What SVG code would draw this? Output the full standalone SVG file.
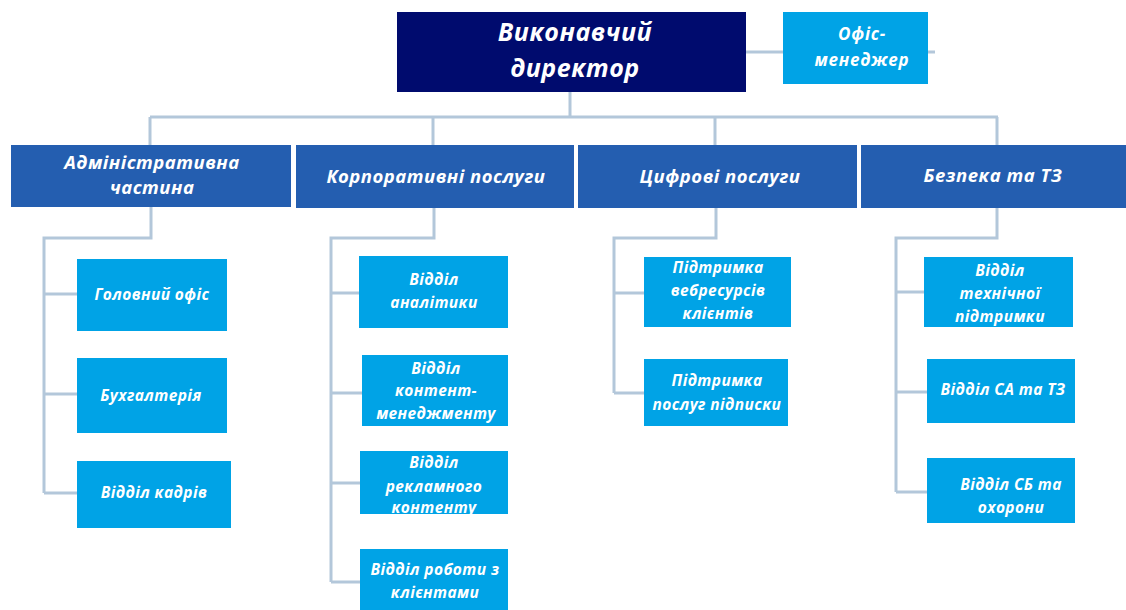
<svg xmlns="http://www.w3.org/2000/svg" width="1126" height="610" viewBox="0 0 1126 610">
<style>
.ln{fill:none;stroke:#b3c7da;stroke-width:3}
.top{fill:#000b6e}
.l2{fill:#245eb0}
.ch{fill:#00a3e6}
text{font-family:"Open Sans","Noto Sans","DejaVu Sans",sans-serif;font-weight:bold;font-style:italic;fill:#ffffff;text-anchor:middle}
.t1{font-size:25px;letter-spacing:0.5px}
.t2{font-size:18.5px;letter-spacing:0.5px}
.t3{font-size:15.5px;letter-spacing:0.4px}
.t4{font-size:17px;letter-spacing:0.8px}
</style>
<rect width="1126" height="610" fill="#ffffff"/>
<g id="connectors">
<path class="ln" d="M746 52H935"/>
<path class="ln" d="M570 92V117M150 117H998M150 117V145M433 117V145M715 117V145M997 117V145"/>
<path class="ln" d="M151 207V238H44V493M44 294H77M44 394H77M44 493H77"/>
<path class="ln" d="M434 208V238H331V582M331 293H359M331 393H362M331 483H360M331 582H360"/>
<path class="ln" d="M716 208V238H614V393M614 293H644M614 393H644"/>
<path class="ln" d="M997 208V238H896V492M896 292H924M896 392H927M896 492H927"/>
</g>
<g id="director"><rect class="top" x="397" y="12" width="349" height="80"/><text class="t1" x="575" y="41">Виконавчий</text><text class="t1" x="575" y="77">директор</text></g>
<g id="office-manager"><rect class="ch" x="783" y="12" width="145" height="72"/><text class="t4" x="862" y="40">Офіс-</text><text class="t4" x="862" y="66">менеджер</text></g>
<g id="admin"><rect class="l2" x="11" y="145" width="280" height="62"/><text class="t2" x="152" y="169">Адміністративна</text><text class="t2" x="152" y="194">частина</text></g>
<g id="corporate"><rect class="l2" x="296" y="145" width="278" height="63"/><text class="t2" x="436" y="183">Корпоративні послуги</text></g>
<g id="digital"><rect class="l2" x="578" y="145" width="279" height="63"/><text class="t2" x="720" y="183">Цифрові послуги</text></g>
<g id="security"><rect class="l2" x="861" y="145" width="265" height="63"/><text class="t2" x="993" y="182">Безпека та ТЗ</text></g>
<g id="head-office"><rect class="ch" x="77" y="259" width="150" height="72"/><text class="t3" x="152" y="300">Головний офіс</text></g>
<g id="accounting"><rect class="ch" x="77" y="358" width="150" height="75"/><text class="t3" x="151" y="401">Бухгалтерія</text></g>
<g id="hr"><rect class="ch" x="77" y="461" width="154" height="67"/><text class="t3" x="154" y="498">Відділ кадрів</text></g>
<g id="analytics"><rect class="ch" x="359" y="256" width="149" height="72"/><text class="t3" x="434" y="285">Відділ</text><text class="t3" x="434" y="308">аналітики</text></g>
<g id="content-mgmt"><rect class="ch" x="362" y="355" width="146" height="71"/><text class="t3" x="436" y="374">Відділ</text><text class="t3" x="436" y="396">контент-</text><text class="t3" x="436" y="419">менеджменту</text></g>
<g id="ad-content"><rect class="ch" x="360" y="451" width="148" height="63"/><text class="t3" x="434" y="468">Відділ</text><text class="t3" x="434" y="492">рекламного</text><text class="t3" x="434" y="513">контенту</text></g>
<g id="clients"><rect class="ch" x="360" y="549" width="148" height="61"/><text class="t3" x="435" y="575">Відділ роботи з</text><text class="t3" x="435" y="598">клієнтами</text></g>
<g id="web-support"><rect class="ch" x="644" y="257" width="147" height="70"/><text class="t3" x="718" y="273">Підтримка</text><text class="t3" x="718" y="296">вебресурсів</text><text class="t3" x="718" y="319">клієнтів</text></g>
<g id="subscription"><rect class="ch" x="644" y="359" width="144" height="67"/><text class="t3" x="717" y="386">Підтримка</text><text class="t3" x="717" y="410">послуг підписки</text></g>
<g id="tech-support"><rect class="ch" x="924" y="257" width="149" height="70"/><text class="t3" x="1000" y="276">Відділ</text><text class="t3" x="1000" y="299">технічної</text><text class="t3" x="1000" y="322">підтримки</text></g>
<g id="sa-tz"><rect class="ch" x="927" y="359" width="148" height="64"/><text class="t3" x="1003" y="395">Відділ СА та ТЗ</text></g>
<g id="sb-guard"><rect class="ch" x="927" y="458" width="148" height="65"/><text class="t3" x="1011" y="490">Відділ СБ та</text><text class="t3" x="1011" y="513">охорони</text></g>
</svg>
